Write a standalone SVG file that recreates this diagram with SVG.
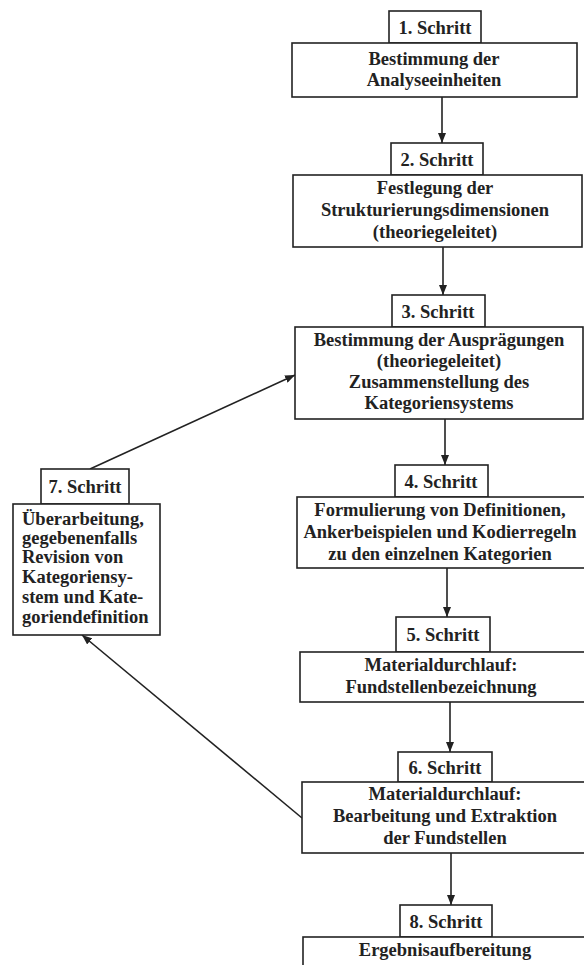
<svg xmlns="http://www.w3.org/2000/svg" width="584" height="965" viewBox="0 0 584 965">
<style>
.bx{fill:#fff;stroke:#222;stroke-width:1.6}
.t{font-family:"Liberation Serif","Times New Roman",serif;font-size:18.5px;font-weight:bold;fill:#222;text-anchor:middle}
.l{text-anchor:start}
.c{fill:none;stroke:#222;stroke-width:1.6}
</style>
<defs>
<marker id="ah" viewBox="0 0 10 8" refX="10" refY="4" markerWidth="10" markerHeight="8" markerUnits="userSpaceOnUse" orient="auto">
<path d="M0,0 L10,4 L0,8 Z" fill="#222"/>
</marker>
</defs>
<rect width="584" height="965" fill="#fff"/>
<g id="connectors">
<line class="c" x1="442" y1="97" x2="442" y2="143" marker-end="url(#ah)"/>
<line class="c" x1="443" y1="247" x2="443" y2="295" marker-end="url(#ah)"/>
<line class="c" x1="445" y1="419" x2="445" y2="465" marker-end="url(#ah)"/>
<line class="c" x1="447" y1="568" x2="447" y2="617" marker-end="url(#ah)"/>
<line class="c" x1="450" y1="702" x2="450" y2="752" marker-end="url(#ah)"/>
<line class="c" x1="451" y1="853" x2="451" y2="905" marker-end="url(#ah)"/>
<line class="c" x1="90" y1="469" x2="295" y2="375" marker-end="url(#ah)"/>
<line class="c" x1="302" y1="818" x2="82" y2="635" marker-end="url(#ah)"/>
</g>
<g id="step1">
<rect class="bx" x="389" y="11" width="92" height="32"/>
<rect class="bx" x="292" y="43" width="285" height="54"/>
<text class="t" x="435" y="34">1. Schritt</text>
<text class="t" x="434" y="65">Bestimmung der</text>
<text class="t" x="434" y="86">Analyseeinheiten</text>
</g>
<g id="step2">
<rect class="bx" x="391" y="143" width="92" height="32"/>
<rect class="bx" x="293" y="175" width="289" height="72"/>
<text class="t" x="437" y="166">2. Schritt</text>
<text class="t" x="435" y="194">Festlegung der</text>
<text class="t" x="435" y="216">Strukturierungsdimensionen</text>
<text class="t" x="435" y="238">(theoriegeleitet)</text>
</g>
<g id="step3">
<rect class="bx" x="392" y="295" width="93" height="32"/>
<rect class="bx" x="295" y="327" width="288" height="92"/>
<text class="t" x="438" y="318">3. Schritt</text>
<text class="t" x="439" y="346">Bestimmung der Ausprägungen</text>
<text class="t" x="439" y="367">(theoriegeleitet)</text>
<text class="t" x="439" y="388">Zusammenstellung des</text>
<text class="t" x="439" y="409">Kategoriensystems</text>
</g>
<g id="step4">
<rect class="bx" x="395" y="465" width="93" height="32"/>
<rect class="bx" x="297" y="497" width="290" height="71"/>
<text class="t" x="441" y="488">4. Schritt</text>
<text class="t" x="440" y="516">Formulierung von Definitionen,</text>
<text class="t" x="440" y="538">Ankerbeispielen und Kodierregeln</text>
<text class="t" x="440" y="560">zu den einzelnen Kategorien</text>
</g>
<g id="step5">
<rect class="bx" x="396" y="617" width="94" height="35"/>
<rect class="bx" x="300" y="652" width="290" height="50"/>
<text class="t" x="443" y="641">5. Schritt</text>
<text class="t" x="441" y="671">Materialdurchlauf:</text>
<text class="t" x="441" y="693">Fundstellenbezeichnung</text>
</g>
<g id="step6">
<rect class="bx" x="398" y="752" width="94" height="30"/>
<rect class="bx" x="302" y="782" width="290" height="71"/>
<text class="t" x="445" y="774">6. Schritt</text>
<text class="t" x="445" y="800">Materialdurchlauf:</text>
<text class="t" x="445" y="822">Bearbeitung und Extraktion</text>
<text class="t" x="445" y="844">der Fundstellen</text>
</g>
<g id="step7">
<rect class="bx" x="41" y="469" width="88" height="35"/>
<rect class="bx" x="13" y="504" width="147" height="131"/>
<text class="t" x="85" y="493">7. Schritt</text>
<text class="t l" x="22" y="525">Überarbeitung,</text>
<text class="t l" x="22" y="544">gegebenenfalls</text>
<text class="t l" x="22" y="563">Revision von</text>
<text class="t l" x="22" y="583">Kategoriensy-</text>
<text class="t l" x="22" y="603">stem und Kate-</text>
<text class="t l" x="22" y="623">goriendefinition</text>
</g>
<g id="step8">
<rect class="bx" x="400" y="905" width="92" height="32"/>
<rect class="bx" x="303" y="937" width="290" height="60"/>
<text class="t" x="446" y="928">8. Schritt</text>
<text class="t" x="445" y="956">Ergebnisaufbereitung</text>
</g>
</svg>
